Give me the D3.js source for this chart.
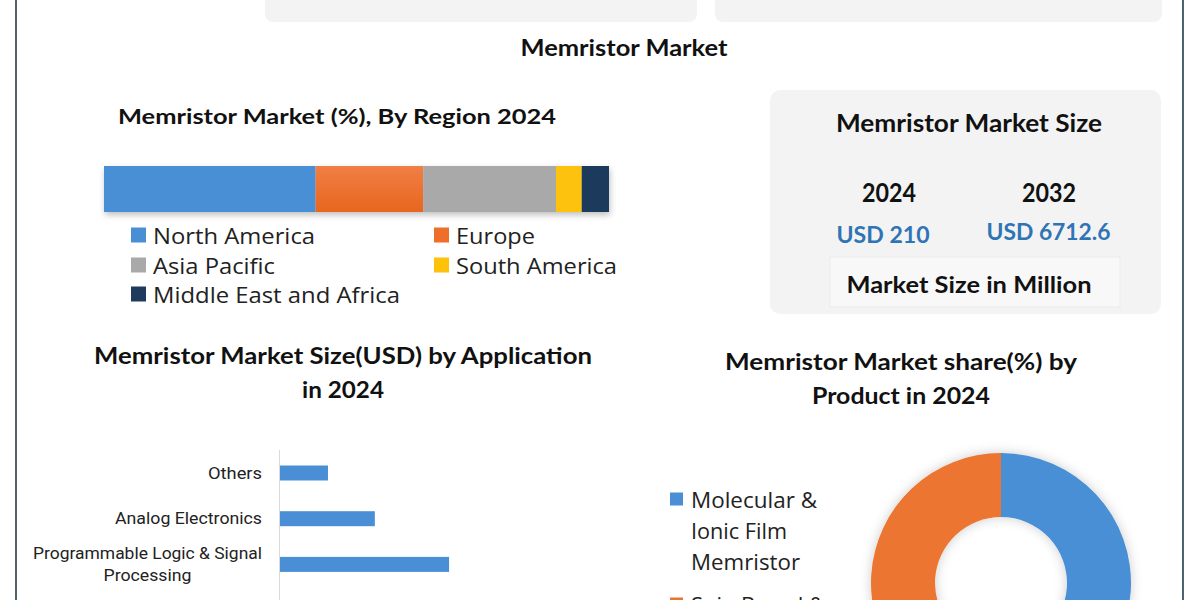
<!DOCTYPE html>
<html>
<head>
<meta charset="utf-8">
<script src="https://cdn.jsdelivr.net/npm/d3@7/dist/d3.min.js"></script>
<style>
html,body{margin:0;padding:0;background:#fff;overflow:hidden;}
svg{display:block;}
</style>
</head>
<body>
<svg id="chart" width="1200" height="600"></svg>
<script>
// ---------- data ----------
const regions = ["North America", "Europe", "Asia Pacific", "South America", "Middle East and Africa"];
const regionShare = [41.9, 21.3, 26.3, 5.1, 5.4];
const regionColors = ["#4a8fd5", "#ee6f2a", "#a9a9a9", "#fdc20a", "#1e3a5c"];

const applications = ["Others", "Analog Electronics", "Programmable Logic & Signal Processing"];
const appLabelLines = [["Others"], ["Analog Electronics"], ["Programmable Logic & Signal", "Processing"]];
const appValues = [21, 41.5, 74]; // USD Mn (estimated)

const products = ["Molecular & Ionic Film Memristor", "Spin Based & ..."];
const productLines = [["Molecular &", "Ionic Film", "Memristor"], ["Spin Based &"]];
const productShare = [52, 48];
const productColors = ["#4a8fd5", "#ec7431"];

const sizeYears = ["2024", "2032"];
const sizeValues = ["USD 210", "USD 6712.6"];

// ---------- drawing ----------
const svg = d3.select("#chart");
const defs = svg.append("defs");
const sh = defs.append("filter").attr("id", "shadow").attr("x", "-20%").attr("y", "-20%").attr("width", "140%").attr("height", "160%");
sh.append("feDropShadow").attr("dx", 1).attr("dy", 3).attr("stdDeviation", 3).attr("flood-color", "#000").attr("flood-opacity", 0.25);
const sh2 = defs.append("filter").attr("id", "shadow2").attr("x", "-20%").attr("y", "-20%").attr("width", "140%").attr("height", "140%");
sh2.append("feDropShadow").attr("dx", 0).attr("dy", 0).attr("stdDeviation", 6).attr("flood-color", "#000").attr("flood-opacity", 0.2);
const orangeGrad = defs.append("linearGradient").attr("id", "og").attr("x1", 0).attr("y1", 0).attr("x2", 0).attr("y2", 1);
orangeGrad.append("stop").attr("offset", "0%").attr("stop-color", "#f07f45");
orangeGrad.append("stop").attr("offset", "100%").attr("stop-color", "#e8651f");

const TITLE = "Lato, 'Open Sans', sans-serif";
const BODY = "'Open Sans', 'Noto Sans', sans-serif";
const NARROW = "'Liberation Sans Narrow', 'Roboto', sans-serif";

function txt(x, y, s, o) {
  o = o || {};
  const t = svg.append("text")
    .attr("x", x).attr("y", y)
    .attr("text-anchor", o.anchor || "middle")
    .attr("dominant-baseline", "central")
    .style("font-family", o.font || TITLE)
    .style("font-size", (o.size || 20) + "px")
    .style("font-weight", o.weight || "bold")
    .attr("fill", o.fill || "#111")
    .text(s);
  if (o.len) t.attr("textLength", o.len).attr("lengthAdjust", "spacingAndGlyphs");
  return t;
}

// page frame
svg.append("line").attr("x1", 16).attr("x2", 16).attr("y1", 0).attr("y2", 600).attr("stroke", "#1f3c4c").attr("stroke-width", 1.6);
svg.append("line").attr("x1", 1183).attr("x2", 1183).attr("y1", 0).attr("y2", 600).attr("stroke", "#1f3c4c").attr("stroke-width", 1.6);

// top cut-off boxes
svg.append("rect").attr("x", 265).attr("y", -20).attr("width", 432).attr("height", 42).attr("rx", 8).attr("fill", "#f3f3f3");
svg.append("rect").attr("x", 715).attr("y", -20).attr("width", 447).attr("height", 42).attr("rx", 8).attr("fill", "#f3f3f3");

// main title
txt(624, 47, "Memristor Market", { size: 22, len: 207 });

// ---------- region stacked bar ----------
txt(337, 115, "Memristor Market (%), By Region 2024", { size: 21, len: 438 });
const total = d3.sum(regionShare);
const xr = d3.scaleLinear().domain([0, total]).range([104, 609]);
const cum = d3.cumsum(regionShare);
const stackData = regions.map((r, i) => ({ r, v: regionShare[i], x0: i ? cum[i - 1] : 0, x1: cum[i], c: regionColors[i] }));
const sg = svg.append("g").attr("filter", "url(#shadow)");
sg.selectAll("rect").data(stackData).enter().append("rect")
  .attr("x", d => xr(d.x0)).attr("width", d => xr(d.x1) - xr(d.x0))
  .attr("y", 166).attr("height", 46)
  .attr("fill", (d, i) => i === 1 ? "url(#og)" : d.c);

// legend
const legPos = [[131, 235], [434, 235], [131, 265], [434, 265], [131, 294]];
const legLen = [162, 79, 122, 161, 247];
regions.forEach((r, i) => {
  const [lx, ly] = legPos[i];
  svg.append("rect").attr("x", lx).attr("y", ly - 7.5).attr("width", 15).attr("height", 15).attr("fill", regionColors[i]);
  txt(lx + 22, ly, r, { anchor: "start", font: BODY, weight: "normal", size: 22, fill: "#222", len: legLen[i] });
});

// ---------- market size panel ----------
svg.append("rect").attr("x", 770).attr("y", 90).attr("width", 391).attr("height", 224).attr("rx", 10)
  .attr("fill", "#f3f3f3");
txt(969, 122, "Memristor Market Size", { size: 24, len: 266 });
const yrX = [889, 1049];
sizeYears.forEach((y, i) => txt(yrX[i], 192, y, { size: 26, len: 54 }));
const valLen = [93, 124];
sizeValues.forEach((v, i) => txt(i ? 1048.5 : 883, i ? 231 : 234, v, { size: 23, fill: "#2f74b5", len: valLen[i] }));
svg.append("rect").attr("x", 830).attr("y", 257).attr("width", 290).attr("height", 50)
  .attr("fill", "#f8f8f8").attr("stroke", "#ececec");
txt(969, 284, "Market Size in Million", { size: 23, len: 245 });

// ---------- application bar chart ----------
txt(343, 355, "Memristor Market Size(USD)  by Application", { size: 22, len: 498 });
txt(343, 389, "in 2024", { size: 22, len: 82 });

const ys = d3.scalePoint().domain(applications).range([473, 564.4]);
const xs = d3.scaleLinear().domain([0, 100]).range([280, 508.5]);
svg.append("line").attr("x1", 279.5).attr("x2", 279.5).attr("y1", 450).attr("y2", 600).attr("stroke", "#d9d9d9").attr("stroke-width", 1);
svg.selectAll("rect.app").data(applications).enter().append("rect").attr("class", "app")
  .attr("x", xs(0)).attr("y", d => ys(d) - 7.5)
  .attr("width", (d, i) => xs(appValues[i]) - xs(0)).attr("height", 15)
  .attr("fill", "#4a8fd5");
const appLen = { "Others": 54, "Analog Electronics": 147, "Programmable Logic & Signal": 229, "Processing": 88 };
applications.forEach((a, i) => {
  const lines = appLabelLines[i];
  const cy = ys(a);
  if (lines.length === 1) {
    txt(262, cy, lines[0], { anchor: "end", font: NARROW, weight: "normal", size: 16, fill: "#222", len: appLen[lines[0]] });
  } else {
    const cx = 262 - appLen[lines[0]] / 2;
    txt(cx, cy - 11, lines[0], { font: NARROW, weight: "normal", size: 16, fill: "#222", len: appLen[lines[0]] });
    txt(cx, cy + 11, lines[1], { font: NARROW, weight: "normal", size: 16, fill: "#222", len: appLen[lines[1]] });
  }
});

// ---------- product donut ----------
txt(901, 361, "Memristor Market share(%)  by", { size: 22, len: 352 });
txt(901, 395, "Product in 2024", { size: 22, len: 178 });

const pie = d3.pie().sort(null).value(d => d);
const arc = d3.arc().innerRadius(66).outerRadius(130);
const dg = svg.append("g").attr("transform", "translate(1001,583)").attr("filter", "url(#shadow2)");
dg.selectAll("path").data(pie(productShare)).enter().append("path")
  .attr("d", arc).attr("fill", (d, i) => productColors[i]);

const pLegY = [499, 604];
const pLen = { "Molecular &": 126, "Ionic Film": 96, "Memristor": 109, "Spin Based &": 134 };
products.forEach((p, i) => {
  const y0 = pLegY[i];
  svg.append("rect").attr("x", 670).attr("y", y0 - 6.5).attr("width", 13).attr("height", 13).attr("fill", productColors[i]);
  productLines[i].forEach((ln, j) => {
    txt(691, y0 + j * 31, ln, { anchor: "start", font: BODY, weight: "normal", size: 22, fill: "#222", len: pLen[ln] });
  });
});
</script>
</body>
</html>
